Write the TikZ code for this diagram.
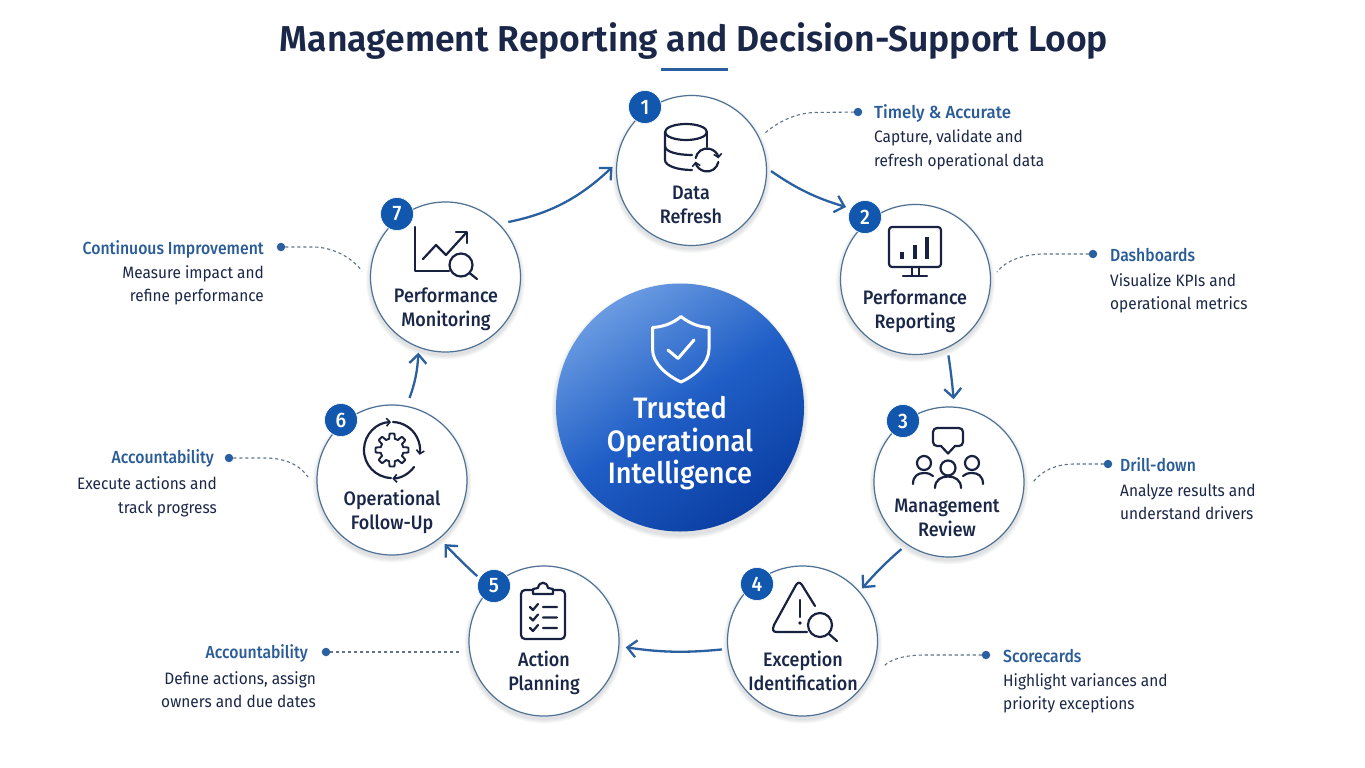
\documentclass[tikz,border=0pt]{standalone}
\usepackage{fontspec}
\usetikzlibrary{arrows.meta,calc}
\setmainfont{Fira Sans}
\newfontfamily\titlef[FakeStretch=.988]{Fira Sans SemiBold}
\newfontfamily\labelf[FakeStretch=.92]{Fira Sans Medium}
\newfontfamily\headf[FakeStretch=.9]{Fira Sans Medium}
\newfontfamily\headw[FakeStretch=.96]{Fira Sans Medium}
\newfontfamily\bodyf[FakeStretch=.935]{Fira Sans}
\definecolor{navy}{HTML}{1B2748}
\definecolor{inkc}{HTML}{182240}
\definecolor{steel}{HTML}{4F7194}
\definecolor{flow}{HTML}{2A609F}
\definecolor{headc}{HTML}{2A5C98}
\definecolor{badgec}{HTML}{1257AE}
\definecolor{dashc}{HTML}{5F7488}
\definecolor{HubTop}{HTML}{6A9BE2}
\definecolor{HubMid}{HTML}{1F5EC6}
\definecolor{HubBottom}{HTML}{0B3FA4}
\tikzset{
  x=1pt,y=-1pt,
  stage/.style={circle,draw=steel,line width=1.2pt,fill=white,minimum size=150pt,inner sep=0pt,outer sep=0pt},
  badge/.style={circle,fill=badgec,draw=white,line width=.6pt,minimum size=33pt,inner sep=0pt,outer sep=0pt,text=white,font=\labelf\fontsize{21}{21}\selectfont},
  stagelabel/.style={align=center,text=navy,inner sep=0pt,font=\labelf\fontsize{19.5}{24}\selectfont},
  flowarrow/.style={draw=flow,line width=2.3pt,-{Straight Barb[length=9pt,width=17pt,line width=2.3pt]}},
  leader/.style={draw=dashc,line width=1.1pt,dash pattern=on 3.2pt off 2.8pt},
  leaddot/.style={circle,fill=flow,minimum size=8.5pt,inner sep=0pt,outer sep=0pt},
  noterb/.style={align=left,anchor=west,inner sep=0pt,text=navy,font=\bodyf\fontsize{16.5}{23.5}\selectfont},
  notelb/.style={align=right,anchor=east,inner sep=0pt,text=navy,font=\bodyf\fontsize{16.5}{23.5}\selectfont},
  notehead/.style={inner sep=0pt,text=headc,font=\headf\fontsize{17.5}{20}\selectfont},
  icon/.style={draw=inkc,line width=2.2pt,line cap=round,line join=round},
  mini/.style={-{Straight Barb[length=3.5pt,width=8pt,line width=1.6pt]}},
}
\newcommand{\softshadow}[3]{%
  \foreach \k in {1,...,5}{\fill[black!60!steel,opacity=.028] (#1,#2+3) circle [radius=#3+\k*.9];}%
}
\begin{document}
\begin{tikzpicture}
\useasboundingbox (0,0) rectangle (1365,768);
\fill[white] (0,0) rectangle (1365,768);

% title
\node[inner sep=0pt,text=navy,font=\titlef\fontsize{36}{40}\selectfont] (title) at (694,41) {Management Reporting and Decision-Support Loop};
\draw[flow,line width=3pt] (661,69.5) -- (728,69.5);

% shadows
\softshadow{691.5}{170.5}{75}
\softshadow{915.5}{279.5}{75}
\softshadow{949}{482}{75}
\softshadow{802.5}{641}{75}
\softshadow{544}{641}{75}
\softshadow{392}{480}{75}
\softshadow{445.5}{277}{75}
\softshadow{680}{408}{124}

% hub
\node[circle,minimum size=248pt,inner sep=0pt,outer sep=0pt,top color=HubTop,bottom color=HubBottom,middle color=HubMid,shading angle=35] (hub) at (680,407.5) {};
\draw[white,line width=3pt,line join=round] (681,316.5) .. controls (672,324) and (662,327) .. (652.5,327.5)
  -- (652.5,349) .. controls (652.5,364) and (668,376) .. (681,382)
  .. controls (694,376) and (709,364) .. (709,349) -- (709,327.5)
  .. controls (700,327) and (690,324) .. (681,316.5) -- cycle;
\draw[white,line width=3pt,line cap=round,line join=round] (668,350) -- (678,358.5) -- (694,340);
\node[align=center,text=white,inner sep=0pt,font=\labelf\fontsize{29.5}{32.5}\selectfont] (hubtext) at (680,443.5) {Trusted\\Operational\\Intelligence};

% stage circles
\node[stage] (c1) at (691.5,170.5) {};
\node[stage] (c2) at (915.5,279.5) {};
\node[stage] (c3) at (949,482) {};
\node[stage] (c4) at (802.5,641) {};
\node[stage] (c5) at (544,641) {};
\node[stage] (c6) at (392,480) {};
\node[stage] (c7) at (445.5,277) {};

% badges
\node[badge] (b1) at (645,107) {1};
\node[badge] (b2) at (865,217) {2};
\node[badge] (b3) at (903,421) {3};
\node[badge] (b4) at (757,584) {4};
\node[badge] (b5) at (494,586) {5};
\node[badge] (b6) at (341,420) {6};
\node[badge] (b7) at (397,214) {7};

% stage labels
\node[stagelabel] (t1) at (691,205) {Data\\Refresh};
\node[stagelabel] (t2) at (915,311) {Performance\\Reporting};
\node[stagelabel] (t3) at (947,518) {Management\\Review};
\node[stagelabel] (t4) at (803,671) {Exception\\Identification};
\node[stagelabel] (t5) at (544,673) {Action\\Planning};
\node[stagelabel] (t6) at (392,512) {Operational\\Follow-Up};
\node[stagelabel] (t7) at (446,309) {Performance\\Monitoring};

% flow arrows
\draw[flowarrow,shorten <=5.6pt,shorten >=5pt] (c1.2.5) to[bend right=9] (b2.149);
\draw[flowarrow,shorten <=8pt,shorten >=8pt] (c2.-65.7) to[bend left=2] (c3.86);
\draw[flowarrow,shorten <=7.5pt,shorten >=4.5pt] (c3.-124.3) to[bend right=4] (c4.41.2);
\draw[flowarrow,shorten <=6pt,shorten >=7pt] (c4.186.3) to[bend left=7] (c5.-4.1);
\draw[flowarrow,shorten <=3pt,shorten >=8pt] (b5.152) to[bend left=2] (c6.-51.8);
\draw[flowarrow,shorten <=9pt,shorten >=5.7pt] (c6.79.9) to[bend right=9] (c7.-111.5);
\draw[flowarrow,shorten <=10pt,shorten >=6pt] (c7.45.2) to[bend right=16] (c1.174);

% icons
% 1 database
\draw[icon] (686,132) ellipse [x radius=21,y radius=8];
\draw[icon] (665,132) -- (665,160) .. controls (665,166) and (678,170) .. (692,170);
\draw[icon] (707,132) -- (707,147);
\draw[icon] (665,146) .. controls (665,152) and (678,155) .. (692,155);
\draw[icon,mini] (695.7,158) arc [start angle=190,end angle=352,radius=11.5];
\draw[icon,mini] (718.3,162) arc [start angle=10,end angle=172,radius=11.5];
% 2 monitor
\draw[icon] (892,227) -- (938,227) arc [start angle=-90,end angle=0,radius=3] -- (941,264) arc [start angle=0,end angle=90,radius=3] -- (892,267) arc [start angle=90,end angle=180,radius=3] -- (889,230) arc [start angle=180,end angle=270,radius=3] -- cycle;
\draw[inkc,line width=4.2pt] (902,252) -- (902,259) (915,245) -- (915,259) (927,237) -- (927,259);
\draw[icon] (912,267) -- (912,276) (919,267) -- (919,276) (903,276) -- (927,276);
% 3 review
\draw[icon] (937,428) -- (959,428) arc [start angle=-90,end angle=0,radius=4] -- (963,442) arc [start angle=0,end angle=90,radius=4] -- (955,446) -- (948,453.5) -- (941,446) -- (937,446) arc [start angle=90,end angle=180,radius=4] -- (933,432) arc [start angle=180,end angle=270,radius=4] -- cycle;
\draw[icon] (948,468) circle [radius=7.5] (924,463) circle [radius=7] (972,463) circle [radius=7];
\draw[icon] (935,488) .. controls (935,480) and (941,476.5) .. (948,476.5) .. controls (955,476.5) and (961,480) .. (961,488);
\draw[icon] (913,484) .. controls (913,476) and (918,473) .. (924,473) .. controls (928,473) and (931,474) .. (933,476);
\draw[icon] (983,484) .. controls (983,476) and (978,473) .. (972,473) .. controls (968,473) and (965,474) .. (963,476);
% 4 exception
\draw[icon] (815,606) -- (802,585) .. controls (800,582) and (798,582) .. (796,585) -- (774,625) .. controls (772,630) and (773,632) .. (777,632) -- (807,632);
\draw[icon] (800,600) -- (800,617);
\fill[inkc] (800,623) circle [radius=1.8];
\draw[icon] (820,625) circle [radius=12];
\draw[icon] (829,634) -- (837,641);
% 5 clipboard
\draw[icon] (533,590) -- (525,590) arc [start angle=-90,end angle=-180,radius=4] -- (521,635) arc [start angle=180,end angle=90,radius=4] -- (561,639) arc [start angle=90,end angle=0,radius=4] -- (565,594) arc [start angle=0,end angle=-90,radius=4] -- (553,590);
\draw[icon] (533,594) -- (533,589) -- (538,588) .. controls (539,581) and (547,581) .. (548,588) -- (553,589) -- (553,594) -- cycle;
\draw[icon] (530,607) -- (533,610) -- (538,604) (543,607) -- (557,607);
\draw[icon] (530,617.5) -- (533,620.5) -- (538,614.5) (543,617.5) -- (557,617.5);
\draw[icon] (530,628) -- (533,631) -- (538,625) (543,628) -- (557,628);
% 6 gear
\draw[inkc,line width=1.9pt,line join=round] plot[domain=0:360,samples=241] ({392+(11.5+5*min(1,max(0,.5+1.3*cos(8*\x))))*cos(\x)},{450+(11.5+5*min(1,max(0,.5+1.3*cos(8*\x))))*sin(\x)}) -- cycle;
\draw[icon,mini] (391,478) arc [start angle=92,end angle=268,radius=28];
\draw[icon,mini] (393,422) arc [start angle=-88,end angle=10,radius=28];
\draw[icon,mini] (414,467) arc [start angle=36,end angle=88,radius=28];
% 7 monitoring
\draw[icon] (415,227) -- (415,271) -- (449,271);
\draw[icon] (423,259) -- (436,245) -- (446,255) -- (466,233);
\draw[icon] (456,232) -- (467,232) -- (467,243);
\draw[icon] (461,265) circle [radius=11.5];
\draw[icon] (469.5,273) -- (477,279);

% callouts
\node[leaddot] (d1) at (858,112) {};
\coordinate (e1) at (765,133);
\draw[leader] (d1) -- (815,112.5) .. controls (795,113) and (778,122) .. (e1);
\node[notehead,anchor=west,font=\headw\fontsize{17.5}{20}\selectfont] (h1) at (874,113.5) {Timely \& Accurate};
\node[noterb] (n1) at (874,150) {Capture, validate and\\refresh operational data};

\node[leaddot] (d2) at (1093,254) {};
\coordinate (e2) at (997,272);
\draw[leader] (d2) -- (1045,254) .. controls (1025,254) and (1006,260) .. (e2);
\node[notehead,anchor=west] (h2) at (1110,255) {Dashboards};
\node[noterb] (n2) at (1110,293.5) {Visualize KPIs and\\operational metrics};

\node[leaddot] (d3) at (1108,464) {};
\coordinate (e3) at (1033,482);
\draw[leader] (d3) -- (1075,464) .. controls (1055,464) and (1042,471) .. (e3);
\node[notehead,anchor=west] (h3) at (1120,465) {Drill-down};
\node[noterb] (n3) at (1120,502) {Analyze results and\\understand drivers};

\node[leaddot] (d4) at (986,655) {};
\coordinate (e4) at (883,667);
\draw[leader] (d4) -- (925,655) .. controls (905,655) and (890,659) .. (e4);
\node[notehead,anchor=west] (h4) at (1003,656) {Scorecards};
\node[noterb] (n4) at (1003,693.5) {Highlight variances and\\priority exceptions};

\node[leaddot] (d5) at (326,652) {};
\coordinate (e5) at (461,652);
\draw[leader] (d5) -- (e5);
\node[notehead,anchor=east] (h5) at (308,653) {Accountability};
\node[notelb] (n5) at (316,689.5) {Define actions, assign\\owners and due dates};

\node[leaddot] (d6) at (229,458) {};
\coordinate (e6) at (308,477);
\draw[leader] (d6) -- (265,458) .. controls (285,458) and (300,465) .. (e6);
\node[notehead,anchor=east] (h6) at (214,458.5) {Accountability};
\node[notelb] (n6) at (217,497) {Execute actions and\\track progress};

\node[leaddot] (d7) at (281,247) {};
\coordinate (e7) at (362,271);
\draw[leader] (d7) -- (315,247) .. controls (335,248) and (352,258) .. (e7);
\node[notehead,anchor=east] (h7) at (264,249) {Continuous Improvement};
\node[notelb] (n7) at (264,285.5) {Measure impact and\\refine performance};
\end{tikzpicture}
\end{document}
